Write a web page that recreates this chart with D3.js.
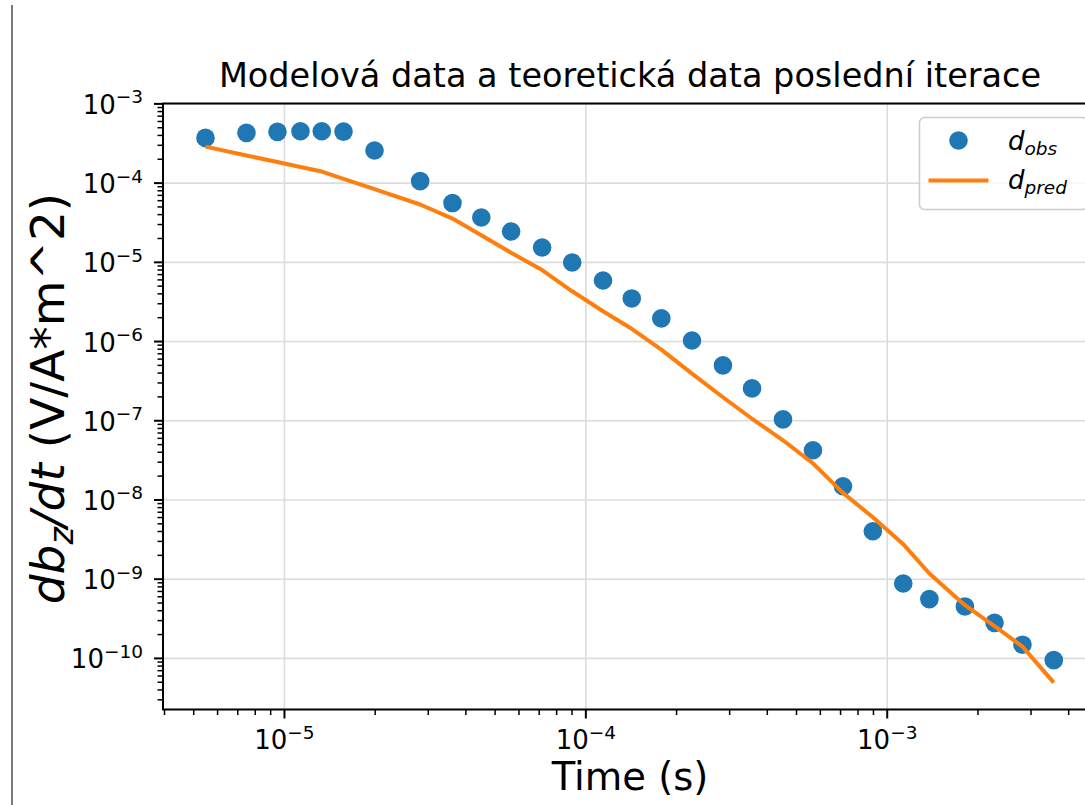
<!DOCTYPE html>
<html>
<head>
<meta charset="utf-8">
<script src="https://cdn.jsdelivr.net/npm/d3@7"></script>
<style>
  html, body { margin: 0; padding: 0; background: #fff; }
  svg { display: block; font-family: "DejaVu Sans", sans-serif; }
</style>
</head>
<body>
<svg id="chart" width="1085" height="805"></svg>
<script>
// ---- data ----
const times = [5.47e-6, 7.48e-6, 9.48e-6, 1.13e-5, 1.33e-5, 1.57e-5, 1.99e-5, 2.82e-5, 3.61e-5, 4.50e-5,
  5.65e-5, 7.16e-5, 9.01e-5, 1.14e-4, 1.42e-4, 1.78e-4, 2.25e-4, 2.85e-4, 3.56e-4, 4.51e-4,
  5.67e-4, 7.13e-4, 8.96e-4, 1.13e-3, 1.38e-3, 1.81e-3, 2.27e-3, 2.81e-3, 3.57e-3];
const dObs = [3.72e-4, 4.31e-4, 4.44e-4, 4.51e-4, 4.51e-4, 4.47e-4, 2.58e-4, 1.06e-4, 5.6e-5, 3.68e-5,
  2.45e-5, 1.54e-5, 9.95e-6, 5.9e-6, 3.5e-6, 1.96e-6, 1.03e-6, 5.0e-7, 2.56e-7, 1.04e-7,
  4.24e-8, 1.49e-8, 4.03e-9, 8.83e-10, 5.6e-10, 4.53e-10, 2.81e-10, 1.49e-10, 9.5e-11];
const dPred = [2.89e-4, 2.23e-4, 1.85e-4, 1.60e-4, 1.40e-4, 1.13e-4, 8.42e-5, 5.37e-5, 3.57e-5, 2.20e-5,
  1.32e-5, 7.99e-6, 4.31e-6, 2.41e-6, 1.45e-6, 7.89e-7, 3.94e-7, 1.98e-7, 1.06e-7, 5.67e-8,
  2.90e-8, 1.23e-8, 6.05e-9, 2.77e-9, 1.18e-9, 4.70e-10, 2.56e-10, 1.41e-10, 4.95e-11];
const xTickExps = [-5, -4, -3];
const yTickExps = [-3, -4, -5, -6, -7, -8, -9, -10];
const titleText = "Modelová data a teoretická data poslední iterace";
const xLabelText = "Time (s)";

// ---- layout ----
const svg = d3.select("#chart");
const L = 163, R = 1097, T = 103.5, B = 709.5;
const x = d3.scaleLog().domain([Math.pow(10, -5.403), Math.pow(10, -2.304)]).range([L, R]);
const y = d3.scaleLog().domain([Math.pow(10, -10.645), Math.pow(10, -2.995)]).range([B, T]);

// stray border line at the left of the picture
svg.append("line").attr("x1", 12).attr("x2", 12).attr("y1", 5).attr("y2", 805)
  .attr("stroke", "#222").attr("stroke-width", 1.2);

// grid
const g = svg.append("g");
g.selectAll(".vgrid").data(xTickExps).enter().append("line")
  .attr("x1", d => x(Math.pow(10, d))).attr("x2", d => x(Math.pow(10, d)))
  .attr("y1", T).attr("y2", B).attr("stroke", "#dcdcdc").attr("stroke-width", 1.6);
g.selectAll(".hgrid").data(yTickExps).enter().append("line")
  .attr("y1", d => y(Math.pow(10, d))).attr("y2", d => y(Math.pow(10, d)))
  .attr("x1", L).attr("x2", R).attr("stroke", "#dcdcdc").attr("stroke-width", 1.6);

const line = d3.line().x((d, i) => x(times[i])).y(d => y(d)).curve(d3.curveLinear);

// points
svg.selectAll(".pt").data(dObs).enter().append("circle")
  .attr("cx", (d, i) => x(times[i])).attr("cy", d => y(d)).attr("r", 9.3)
  .attr("fill", "#1f77b4");

// predicted line on top
svg.append("path").datum(dPred).attr("d", line)
  .attr("fill", "none").attr("stroke", "#ff7f0e").attr("stroke-width", 4)
  .attr("stroke-linejoin", "round");

// spines
svg.append("line").attr("x1", L).attr("x2", L).attr("y1", T).attr("y2", B).attr("stroke", "#000").attr("stroke-width", 2);
svg.append("line").attr("x1", L - 1).attr("x2", R).attr("y1", B).attr("y2", B).attr("stroke", "#000").attr("stroke-width", 2);
svg.append("line").attr("x1", L - 1).attr("x2", R).attr("y1", T).attr("y2", T).attr("stroke", "#000").attr("stroke-width", 2);

// minor ticks
function minors(scale) {
  const [a, b] = scale.domain();
  const out = [];
  for (let e = Math.floor(Math.log10(a)); e <= Math.ceil(Math.log10(b)); e++) {
    for (let m = 2; m <= 9; m++) {
      const v = m * Math.pow(10, e);
      if (v >= a && v <= b) out.push(v);
    }
  }
  return out;
}
svg.selectAll(".xminor").data(minors(x)).enter().append("line")
  .attr("x1", d => x(d)).attr("x2", d => x(d)).attr("y1", B).attr("y2", B + 5.5)
  .attr("stroke", "#000").attr("stroke-width", 1.5);
svg.selectAll(".yminor").data(minors(y)).enter().append("line")
  .attr("y1", d => y(d)).attr("y2", d => y(d)).attr("x1", L).attr("x2", L - 5.5)
  .attr("stroke", "#000").attr("stroke-width", 1.5);
svg.selectAll(".xmajor").data(xTickExps).enter().append("line")
  .attr("x1", d => x(Math.pow(10, d))).attr("x2", d => x(Math.pow(10, d))).attr("y1", B).attr("y2", B + 9)
  .attr("stroke", "#000").attr("stroke-width", 2);
svg.selectAll(".ymajor").data(yTickExps).enter().append("line")
  .attr("y1", d => y(Math.pow(10, d))).attr("y2", d => y(Math.pow(10, d))).attr("x1", L).attr("x2", L - 9)
  .attr("stroke", "#000").attr("stroke-width", 2);

// tick labels
function powLabel(sel, e) {
  sel.append("tspan").text("10");
  sel.append("tspan").attr("dy", -10.5).attr("font-size", 18.5).text("\u2212" + Math.abs(e));
}
xTickExps.forEach(e => {
  const t = svg.append("text").attr("x", x(Math.pow(10, e))).attr("y", 749)
    .attr("text-anchor", "middle").attr("font-size", 26).attr("fill", "#000");
  powLabel(t, e);
});
yTickExps.forEach(e => {
  const t = svg.append("text").attr("x", 143).attr("y", y(Math.pow(10, e)) + 10)
    .attr("text-anchor", "end").attr("font-size", 26).attr("fill", "#000");
  powLabel(t, e);
});

// title
svg.append("text").attr("x", (L + R) / 2).attr("y", 87).attr("text-anchor", "middle")
  .attr("font-size", 33.5).attr("fill", "#000").text(titleText);

// x label
svg.append("text").attr("x", (L + R) / 2).attr("y", 790).attr("text-anchor", "middle")
  .attr("font-size", 38.5).attr("fill", "#000").text(xLabelText);

// y label
const yl = svg.append("text").attr("transform", `translate(64, ${(T + B) / 2 - 8}) rotate(-90)`)
  .attr("text-anchor", "middle").attr("font-size", 47).attr("fill", "#000");
yl.append("tspan").attr("font-style", "italic").text("db");
yl.append("tspan").attr("font-style", "italic").attr("font-size", 33).attr("dy", 9).text("z");
yl.append("tspan").attr("font-style", "italic").attr("dy", -9).text("/dt");
yl.append("tspan").text(" (V/A*m^2)");

// legend
const lg = svg.append("g");
lg.append("rect").attr("x", 919.5).attr("y", 117.5).attr("width", 168).attr("height", 92).attr("rx", 5)
  .attr("fill", "#fff").attr("fill-opacity", 0.8).attr("stroke", "#cccccc").attr("stroke-width", 1.5);
lg.append("circle").attr("cx", 958.5).attr("cy", 140.5).attr("r", 9.3).attr("fill", "#1f77b4");
lg.append("line").attr("x1", 928.5).attr("x2", 988.5).attr("y1", 180.5).attr("y2", 180.5)
  .attr("stroke", "#ff7f0e").attr("stroke-width", 4);
const l1 = lg.append("text").attr("x", 1008).attr("y", 150).attr("font-size", 26).attr("font-style", "italic").attr("fill", "#000");
l1.append("tspan").text("d");
l1.append("tspan").attr("font-size", 18.5).attr("dy", 5).text("obs");
const l2 = lg.append("text").attr("x", 1008).attr("y", 189).attr("font-size", 26).attr("font-style", "italic").attr("fill", "#000");
l2.append("tspan").text("d");
l2.append("tspan").attr("font-size", 18.5).attr("dy", 5).text("pred");
</script>
</body>
</html>
